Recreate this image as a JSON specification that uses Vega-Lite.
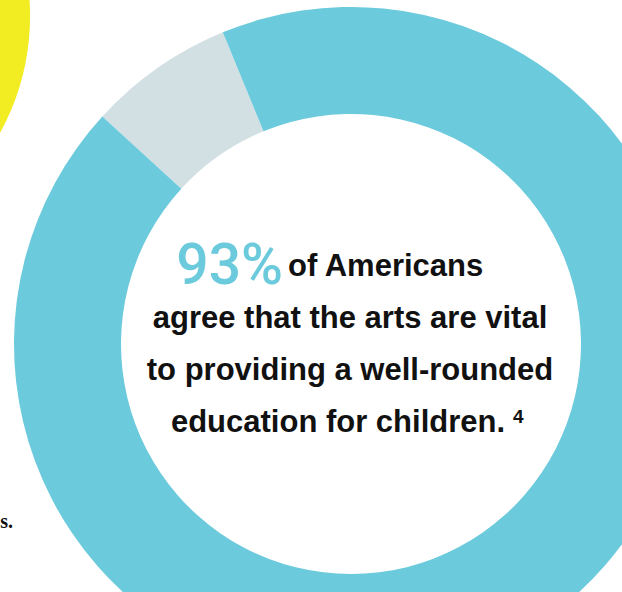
{
  "$schema": "https://vega.github.io/schema/vega-lite/v6.json",
  "width": 702,
  "height": 688,
  "autosize": {"type": "none"},
  "padding": {"left": 0, "top": 0, "right": -80, "bottom": -96},
  "background": "#ffffff",
  "config": {"view": {"stroke": null}},
  "data": {
    "values": [
      {"response": "Not vital", "share": 0.07},
      {"response": "Vital", "share": 0.93}
    ]
  },
  "layer": [
    {
      "data": {"values": [{"shape": "neighbouring circle"}]},
      "mark": {"type": "arc", "x": -213, "y": 16, "radius": 243, "theta": 0, "theta2": 6.2832, "fill": "#F2EC22", "stroke": null},
      "encoding": {}
    },
    {
      "mark": {"type": "arc", "radius": 337, "radius2": 230, "stroke": null},
      "encoding": {
        "theta": {"field": "share", "type": "quantitative", "stack": true, "scale": {"range": [-0.83, 5.4532]}},
        "order": {"field": "response"},
        "color": {
          "field": "response",
          "type": "nominal",
          "scale": {"domain": ["Not vital", "Vital"], "range": ["#D3E0E3", "#6BCADC"]},
          "legend": null
        }
      }
    },
    {
      "transform": [{"filter": "datum.response === 'Vital'"}],
      "mark": {"type": "text", "align": "right", "baseline": "alphabetic", "dx": -68, "dy": -60, "font": "Roboto", "fontSize": 57, "fontWeight": 500, "color": "#6BCADC"},
      "encoding": {"text": {"field": "share", "type": "quantitative", "format": ".0%"}}
    },
    {
      "data": {"values": [{"label": "of Americans"}]},
      "mark": {"type": "text", "align": "left", "baseline": "alphabetic", "dx": -63, "dy": -68, "font": "Liberation Sans", "fontSize": 31, "fontWeight": "bold", "color": "#111111"},
      "encoding": {"text": {"field": "label"}}
    },
    {
      "data": {"values": [{"label": ["agree that the arts are vital", "to providing a well-rounded"]}]},
      "mark": {"type": "text", "align": "center", "baseline": "alphabetic", "dx": -1, "dy": -16, "lineHeight": 52, "font": "Liberation Sans", "fontSize": 31, "fontWeight": "bold", "color": "#111111"},
      "encoding": {"text": {"field": "label"}}
    },
    {
      "data": {"values": [{"label": "education for children."}]},
      "mark": {"type": "text", "align": "center", "baseline": "alphabetic", "dx": -13, "dy": 88, "font": "Liberation Sans", "fontSize": 31, "fontWeight": "bold", "color": "#111111"},
      "encoding": {"text": {"field": "label"}}
    },
    {
      "data": {"values": [{"label": "4"}]},
      "mark": {"type": "text", "align": "left", "baseline": "alphabetic", "dx": 162, "dy": 79, "font": "Liberation Sans", "fontSize": 19, "fontWeight": "bold", "color": "#111111"},
      "encoding": {"text": {"field": "label"}}
    },
    {
      "data": {"values": [{"label": "s."}]},
      "mark": {"type": "text", "align": "right", "baseline": "alphabetic", "dx": -338, "dy": 184, "font": "Liberation Serif", "fontSize": 20, "fontWeight": "bold", "color": "#111111"},
      "encoding": {"text": {"field": "label"}}
    }
  ]
}
